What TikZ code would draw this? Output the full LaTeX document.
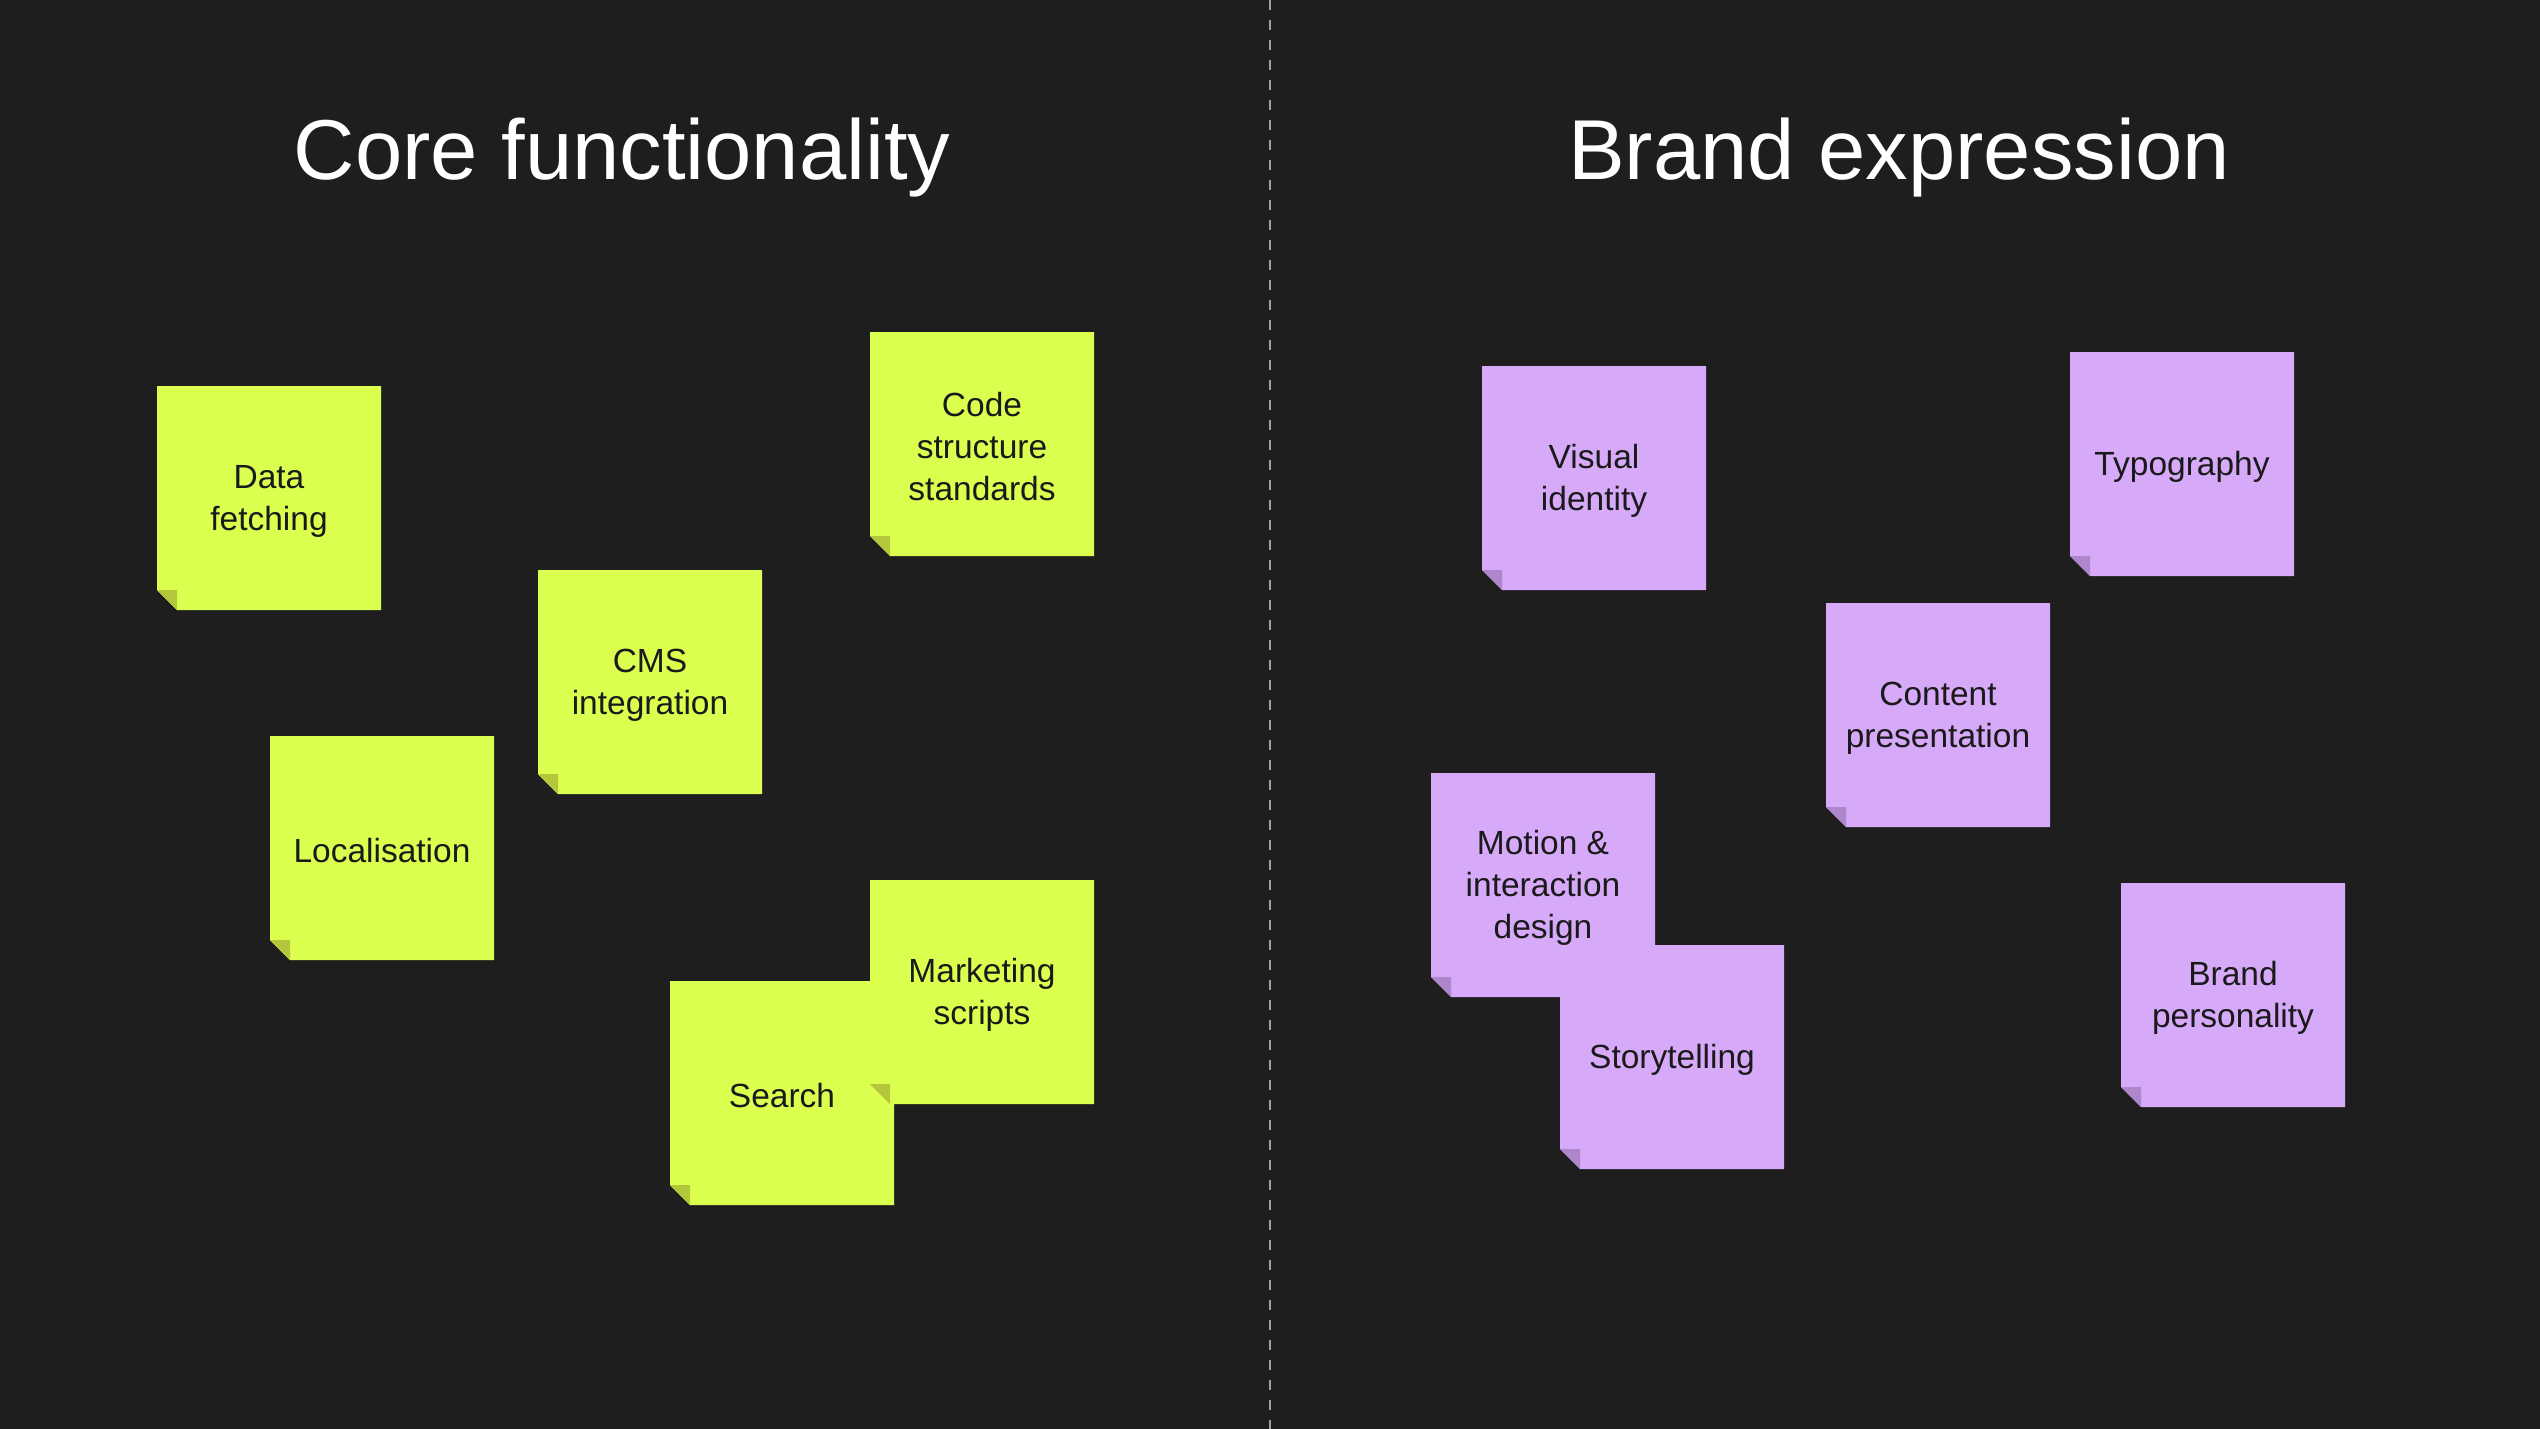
\documentclass[tikz,border=0pt]{standalone}
\usepackage{fontspec}
\setmainfont{Liberation Sans}
\definecolor{bg}{HTML}{1E1E1E}
\definecolor{lime}{HTML}{DBFF4F}
\definecolor{limefold}{HTML}{B4C63B}
\definecolor{lilac}{HTML}{D7A9F9}
\definecolor{lilacfold}{HTML}{AD86CB}
\definecolor{ink}{HTML}{1A1A1A}
\definecolor{divcol}{HTML}{A0A0A0}
\tikzset{
  title/.style={text=white, font=\fontsize{85}{100}\selectfont, anchor=base, inner sep=0pt},
  notetext/.style={text=ink, font=\fontsize{33.5}{42}\selectfont, align=center, minimum size=224pt, inner sep=0pt},
  divider/.style={draw=divcol, line width=1.6pt, dash pattern=on 10pt off 10pt},
}
\newcommand\stickynote[5]{%
  \fill[#4] (#2,#3) -- ++(224,0) -- ++(0,224) -- ++(-204,0) -- ++(-20,-20) -- cycle;
  \fill[#4fold] (#2,#3+204) -- ++(20,0) -- ++(0,20) -- cycle;
  \node[notetext] (#1) at (#2+112,#3+115) {#5};
}
\begin{document}
\begin{tikzpicture}[x=1pt,y=-1pt]
\fill[bg] (0,0) rectangle (2540,1429);
\useasboundingbox (0,0) rectangle (2540,1429);
\coordinate (divtop) at (1270,0);
\coordinate (divbot) at (1270,1429);
\draw[divider] (divtop) -- (divbot);
\node[title] (core) at (622,179) {Core functionality};
\node[title] (brand) at (1899,179) {Brand expression};
% core functionality
\stickynote{data}{157}{386}{lime}{Data\\fetching}
\stickynote{code}{870}{332}{lime}{Code\\structure\\standards}
\stickynote{cms}{538}{570}{lime}{CMS\\integration}
\stickynote{local}{270}{736}{lime}{Localisation}
\stickynote{search}{670}{981}{lime}{Search}
\stickynote{market}{870}{880}{lime}{Marketing\\scripts}
% brand expression
\stickynote{visual}{1482}{366}{lilac}{Visual\\identity}
\stickynote{typo}{2070}{352}{lilac}{Typography}
\stickynote{content}{1826}{603}{lilac}{Content\\presentation}
\stickynote{motion}{1431}{773}{lilac}{Motion \&\\interaction\\design}
\stickynote{story}{1560}{945}{lilac}{Storytelling}
\stickynote{personality}{2121}{883}{lilac}{Brand\\personality}
\end{tikzpicture}
\end{document}
